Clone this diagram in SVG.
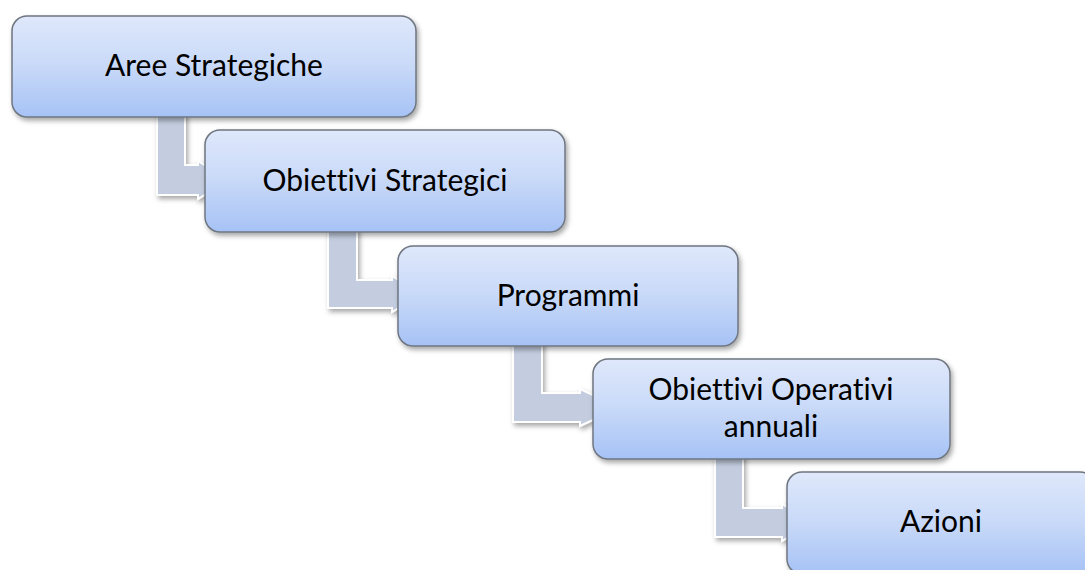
<svg xmlns="http://www.w3.org/2000/svg" width="1085" height="570" viewBox="0 0 1085 570">
<defs>
<linearGradient id="boxfill" x1="0" y1="0" x2="0" y2="1">
<stop offset="0" stop-color="#dfe8fb"/>
<stop offset="0.5" stop-color="#c8d9f8"/>
<stop offset="1" stop-color="#a6c2f5"/>
</linearGradient>
<filter id="sh" x="-10%" y="-10%" width="125%" height="130%">
<feDropShadow dx="2" dy="3" stdDeviation="2.5" flood-color="#000" flood-opacity="0.35"/>
</filter>
</defs>
<style>
.box{fill:url(#boxfill);stroke:#6f7680;stroke-width:1.5;filter:url(#sh)}
.conn{fill:#c3cddf;stroke:#ffffff;stroke-width:2;filter:url(#sh)}
.lbl{font-family:"Lato","Liberation Sans",sans-serif;font-size:30px;fill:#000;text-anchor:middle;font-variant-ligatures:none}
</style>
<rect width="1085" height="570" fill="#ffffff"/>
<g id="connectors">
<polygon class="conn" points="157,112 185,112 185,165 198,165 198,161 228,180 198,199 198,195 157,195"/>
<polygon class="conn" points="328,227 357,227 357,280 392,280 392,276 422,294 392,312 392,308 328,308"/>
<polygon class="conn" points="513,341 542,341 542,393 580,393 580,389 620,407.5 580,426 580,422 513,422"/>
<polygon class="conn" points="715,454 743,454 743,508 782,508 782,504 812,522.5 782,541 782,537 715,537"/>
</g>
<g id="node1">
<rect class="box" x="12" y="16" width="404" height="101" rx="15"/>
<text class="lbl" x="214" y="76">Aree Strategiche</text>
</g>
<g id="node2">
<rect class="box" x="205" y="130" width="360" height="102" rx="15"/>
<text class="lbl" x="385" y="191">Obiettivi Strategici</text>
</g>
<g id="node3">
<rect class="box" x="398" y="246" width="340" height="100" rx="15"/>
<text class="lbl" x="568" y="306">Programmi</text>
</g>
<g id="node4">
<rect class="box" x="593" y="359" width="357" height="100" rx="15"/>
<text class="lbl" x="771" y="400">Obiettivi Operativi</text>
<text class="lbl" x="771" y="437">annuali</text>
</g>
<g id="node5">
<rect class="box" x="787" y="472" width="308" height="102" rx="15"/>
<text class="lbl" x="941" y="532">Azioni</text>
</g>
</svg>
